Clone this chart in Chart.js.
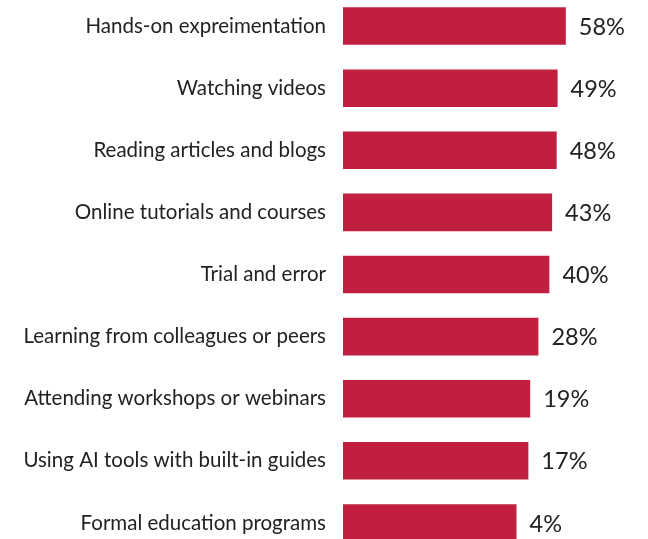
<!DOCTYPE html>
<html>
<head>
<meta charset="utf-8">
<script src="https://cdn.jsdelivr.net/npm/chart.js@4"></script>
<style>
  html, body { margin: 0; padding: 0; background: #fff; overflow: hidden; }
  #c { position: absolute; left: 0; top: -5px; }
</style>
</head>
<body>
<canvas id="c" width="648" height="559" style="width:648px;height:559px;"></canvas>
<script>
const categories = [
  "Hands-on expreimentation",
  "Watching videos",
  "Reading articles and blogs",
  "Online tutorials and courses",
  "Trial and error",
  "Learning from colleagues or peers",
  "Attending workshops or webinars",
  "Using AI tools with built-in guides",
  "Formal education programs"
];
const values = [58, 49, 48, 43, 40, 28, 19, 17, 4];
const valueLabels = ["58%", "49%", "48%", "43%", "40%", "28%", "19%", "17%", "4%"];

const FONT = "Lato, 'Open Sans', sans-serif";

const valueLabelPlugin = {
  id: 'valueLabels',
  afterDatasetsDraw(chart) {
    const ctx = chart.ctx;
    const meta = chart.getDatasetMeta(0);
    ctx.save();
    ctx.font = "23.5px " + FONT;
    ctx.fillStyle = "#222222";
    ctx.textAlign = "left";
    ctx.textBaseline = "middle";
    meta.data.forEach((bar, i) => {
      ctx.fillText(valueLabels[i], bar.x + 13, bar.y + 1);
    });
    ctx.restore();
  }
};

new Chart(document.getElementById('c'), {
  type: 'bar',
  data: {
    labels: categories,
    datasets: [{
      data: values,
      base: -186,
      backgroundColor: '#C01F40',
      borderWidth: 0,
      categoryPercentage: 1,
      barPercentage: 0.605
    }]
  },
  options: {
    indexAxis: 'y',
    responsive: false,
    animation: false,
    layout: { padding: 0 },
    plugins: { legend: { display: false }, tooltip: { enabled: false } },
    scales: {
      x: {
        display: false,
        min: -186,
        max: 148
      },
      y: {
        grid: { display: false, drawTicks: false },
        border: { display: false },
        ticks: {
          color: '#222222',
          font: { family: FONT, size: 20.5 },
          padding: 17,
          autoSkip: false
        },
        afterFit(scale) {
          scale.width = 343;
          scale.paddingTop = 0;
          scale.paddingBottom = 0;
        }
      }
    }
  },
  plugins: [valueLabelPlugin]
});
</script>
</body>
</html>
